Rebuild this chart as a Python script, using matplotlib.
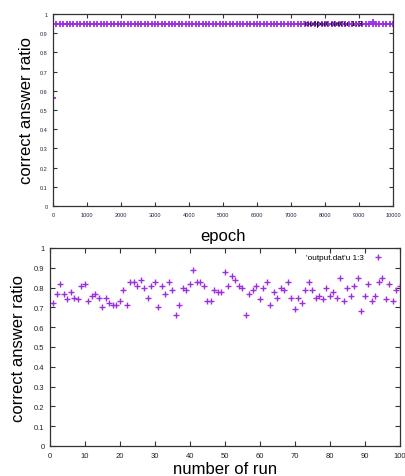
import numpy as np
import matplotlib
matplotlib.use('Agg')
import matplotlib.pyplot as plt
from matplotlib.ticker import FuncFormatter

plt.rcParams['font.family'] = ['Liberation Sans', 'DejaVu Sans']

# panel 1: ratio per epoch (sampled every 100 epochs)
epoch = np.arange(0, 10001, 100)
ratio_epoch = [0.56,
    0.95, 0.95, 0.95, 0.95, 0.95, 0.95, 0.95, 0.95, 0.95, 0.95,
    0.95, 0.95, 0.95, 0.95, 0.95, 0.95, 0.95, 0.95, 0.95, 0.95,
    0.95, 0.95, 0.95, 0.95, 0.95, 0.95, 0.95, 0.95, 0.95, 0.95,
    0.95, 0.95, 0.95, 0.95, 0.95, 0.95, 0.95, 0.95, 0.95, 0.95,
    0.95, 0.95, 0.95, 0.95, 0.95, 0.95, 0.95, 0.95, 0.95, 0.95,
    0.95, 0.95, 0.95, 0.95, 0.95, 0.95, 0.95, 0.95, 0.95, 0.95,
    0.95, 0.95, 0.95, 0.95, 0.95, 0.95, 0.95, 0.95, 0.95, 0.95,
    0.95, 0.95, 0.95, 0.95, 0.95, 0.95, 0.95, 0.95, 0.95, 0.95,
    0.95, 0.95, 0.95, 0.95, 0.95, 0.95, 0.95, 0.95, 0.95, 0.95,
    0.95, 0.95, 0.95, 0.95, 0.95, 0.95, 0.95, 0.95, 0.95, 0.95]

# panel 2: ratio per run
run = np.arange(1, 101)
ratio_run = [
    0.72, 0.77, 0.82, 0.77, 0.74, 0.78, 0.75, 0.74, 0.81, 0.82,
    0.73, 0.76, 0.77, 0.75, 0.70, 0.75, 0.72, 0.71, 0.71, 0.73,
    0.79, 0.71, 0.83, 0.83, 0.81, 0.84, 0.80, 0.75, 0.81, 0.83,
    0.70, 0.81, 0.77, 0.83, 0.79, 0.66, 0.71, 0.80, 0.79, 0.82,
    0.89, 0.83, 0.83, 0.81, 0.73, 0.73, 0.79, 0.78, 0.78, 0.88,
    0.81, 0.86, 0.84, 0.81, 0.80, 0.66, 0.77, 0.79, 0.81, 0.74,
    0.80, 0.83, 0.71, 0.78, 0.75, 0.80, 0.79, 0.83, 0.75, 0.69,
    0.75, 0.72, 0.79, 0.83, 0.79, 0.75, 0.76, 0.74, 0.80, 0.76,
    0.78, 0.75, 0.85, 0.73, 0.80, 0.76, 0.81, 0.85, 0.68, 0.76,
    0.82, 0.73, 0.76, 0.83, 0.85, 0.74, 0.82, 0.73, 0.79, 0.81]

purple = '#9b30e0'
frame = '#333333'
leg_label = "'output.dat'u 1:3"

fig = plt.figure(figsize=(4.06, 4.77), dpi=100)
ax0 = fig.add_axes([53/406, 1 - 207/477, 340/406, 192/477])
ax1 = fig.add_axes([50/406, 1 - 447/477, 350/406, 198/477])

def fmt(v, pos):
    return '%g' % round(v, 2)

# top
ax0.plot(epoch, ratio_epoch, '+', color=purple, ms=5, mew=1.3, label=leg_label)
ax0.set_xlim(0, 10000)
ax0.set_ylim(0, 1)
ax0.set_xticks(np.arange(0, 10001, 1000))
ax0.set_yticks(np.arange(0, 1.01, 0.1))
ax0.yaxis.set_major_formatter(FuncFormatter(fmt))
ax0.tick_params(direction='in', top=True, right=True, length=3, width=0.8,
                labelsize=4, pad=4, colors=frame, labelcolor='#222244')
ax0.set_xlabel('epoch', fontsize=12, labelpad=8)
ax0.set_ylabel('correct answer ratio', fontsize=12, labelpad=4)
ax0.legend(loc='upper right', frameon=False, markerfirst=False, fontsize=6,
           handlelength=1.2, handletextpad=0.6, borderaxespad=0.15,
           bbox_to_anchor=(0.969, 0.995))

# bottom
ax1.plot(run, ratio_run, '+', color=purple, ms=5, mew=1.0, label=leg_label)
ax1.set_xlim(0, 100)
ax1.set_ylim(0, 1)
ax1.set_xticks(np.arange(0, 101, 10))
ax1.set_yticks(np.arange(0, 1.01, 0.1))
ax1.yaxis.set_major_formatter(FuncFormatter(fmt))
ax1.tick_params(direction='in', top=True, right=True, length=3.5, width=0.8,
                labelsize=5.5, pad=4, colors=frame, labelcolor='#222222')
ax1.set_xlabel('number of run', fontsize=12, labelpad=2)
ax1.set_ylabel('correct answer ratio', fontsize=12, labelpad=6)
ax1.legend(loc='upper right', frameon=False, markerfirst=False, fontsize=5.9,
           handlelength=1.2, handletextpad=1.2, borderaxespad=0.3,
           bbox_to_anchor=(0.969, 1.0))

for ax in (ax0, ax1):
    for s in ax.spines.values():
        s.set_color(frame)
        s.set_linewidth(0.9)

fig.savefig('out.png', dpi=100)
